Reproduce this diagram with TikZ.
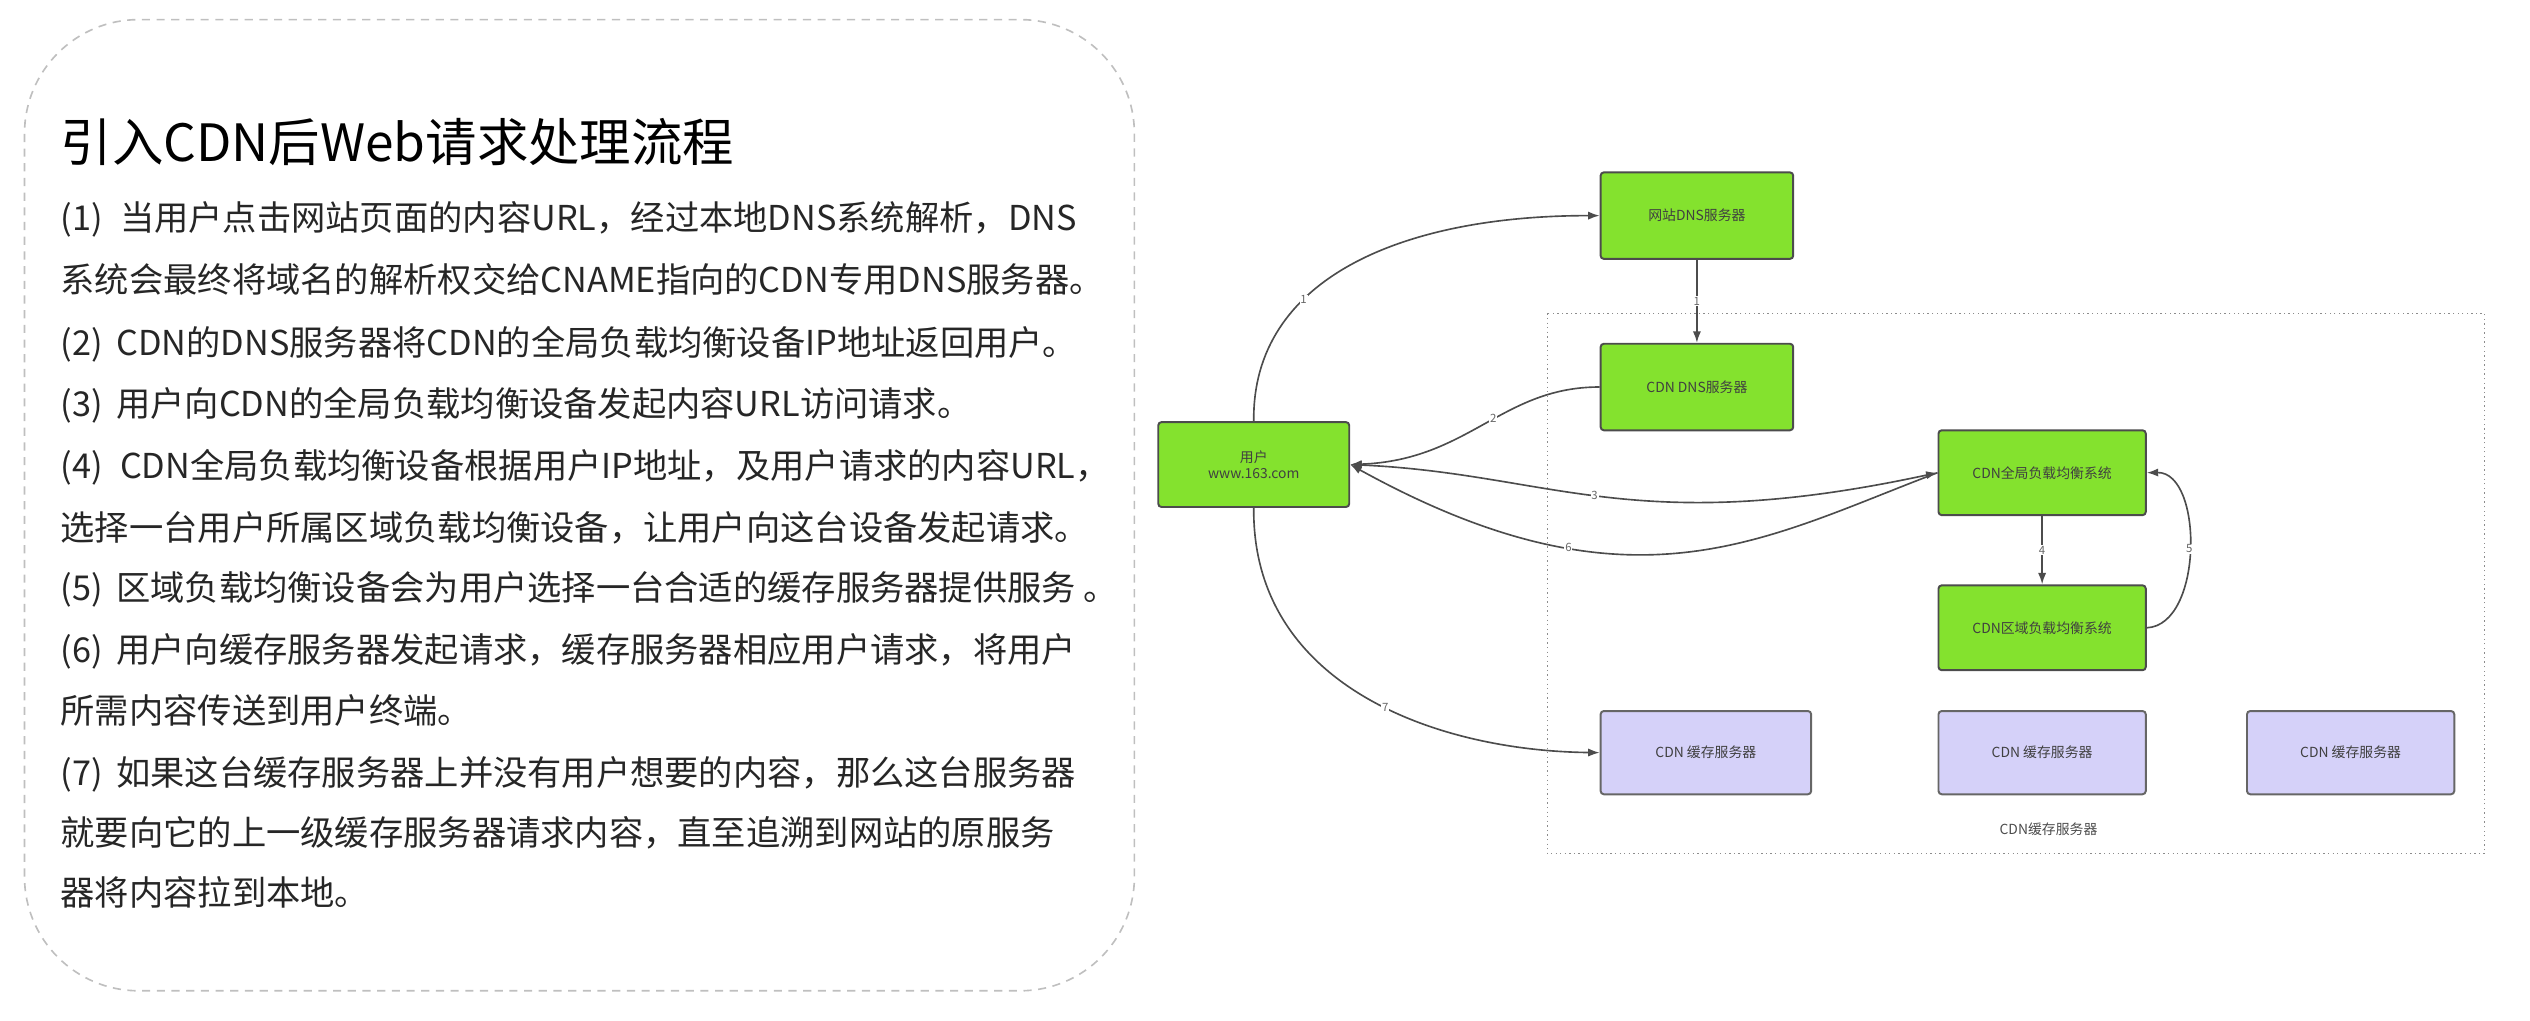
\documentclass[tikz,border=0pt]{standalone}
\usepackage{fontspec}
\setmainfont{Noto Sans CJK SC}
\usetikzlibrary{arrows.meta}
\definecolor{gbox}{HTML}{84E22E}
\definecolor{pbox}{HTML}{D5D1F9}
\begin{document}
\begin{tikzpicture}[x=1pt,y=-1pt,
  box/.style={draw=black!70,line width=1.2pt,rounded corners=2pt,fill=gbox,font=\fontsize{8.5}{10}\selectfont,text=black!75,align=center,anchor=north west},
  cbox/.style={box,fill=pbox,draw=black!60},
  edge/.style={draw=black!70,line width=1pt,-{Latex[length=7pt,width=5pt]}},
  lab/.style={font=\fontsize{7}{7}\selectfont,text=black!60,fill=white,inner sep=0.5pt},
  body/.style={anchor=base west,font=\fontsize{21}{24}\selectfont,text=black!85,inner sep=0}]
\useasboundingbox (0,0) rectangle (1550,625);
\draw[black!25,line width=1pt,dash pattern=on 5pt off 4pt,rounded corners=70pt] (15,12) rectangle (695,607);
\node[anchor=base west,font=\fontsize{31.5}{34}\selectfont,inner sep=0] (title) at (37,99) {引入CDN后Web请求处理流程};
\node[body] (t1) at (37,141) {(1)\enspace 当用户点击网站页面的内容URL，经过本地DNS系统解析，DNS};
\node[body] (t2) at (37,179) {系统会最终将域名的解析权交给CNAME指向的CDN专用DNS服务器。};
\node[body] (t3) at (37,218) {(2)\, CDN的DNS服务器将CDN的全局负载均衡设备IP地址返回用户。};
\node[body] (t4) at (37,255) {(3)\, 用户向CDN的全局负载均衡设备发起内容URL访问请求。};
\node[body] (t5) at (37,293) {(4)\enspace CDN全局负载均衡设备根据用户IP地址，及用户请求的内容URL，};
\node[body] (t6) at (37,331) {选择一台用户所属区域负载均衡设备，让用户向这台设备发起请求。};
\node[body] (t7) at (37,368) {(5)\, 区域负载均衡设备会为用户选择一台合适的缓存服务器提供服务 。};
\node[body] (t8) at (37,406) {(6)\, 用户向缓存服务器发起请求，缓存服务器相应用户请求，将用户};
\node[body] (t9) at (37,443) {所需内容传送到用户终端。};
\node[body] (t10) at (37,481) {(7)\, 如果这台缓存服务器上并没有用户想要的内容，那么这台服务器};
\node[body] (t11) at (37,518) {就要向它的上一级缓存服务器请求内容，直至追溯到网站的原服务};
\node[body] (t12) at (37,555) {器将内容拉到本地。};

\draw[black!45,line width=0.8pt,dotted] (948,192) rectangle (1522,523);
\node[font=\fontsize{8.5}{9}\selectfont,text=black!70] (cl) at (1255,508) {CDN缓存服务器};

\node[box,minimum width=117pt,minimum height=52pt] (user) at (709,258) {用户\\www.163.com};
\node[box,minimum width=118pt,minimum height=53pt] (wdns) at (980,105) {网站DNS服务器};
\node[box,minimum width=118pt,minimum height=53pt] (cdns) at (980,210) {CDN DNS服务器};
\node[box,minimum width=127pt,minimum height=52pt] (glb) at (1187,263) {CDN全局负载均衡系统};
\node[box,minimum width=127pt,minimum height=52pt] (rlb) at (1187,358) {CDN区域负载均衡系统};
\node[cbox,minimum width=129pt,minimum height=51pt] (c1) at (980,435) {CDN 缓存服务器};
\node[cbox,minimum width=127pt,minimum height=51pt] (c2) at (1187,435) {CDN 缓存服务器};
\node[cbox,minimum width=127pt,minimum height=51pt] (c3) at (1376,435) {CDN 缓存服务器};

\draw[edge] (user.north) .. controls (767,170) and (860,132) .. node[lab,pos=0.35]{1} (wdns.west);
\draw[edge] (wdns.south) -- node[lab,pos=0.5]{1} (cdns.north);
\draw[edge] (cdns.west) .. controls (920,237) and (900,282) .. node[lab,pos=0.45]{2} (user.east);
\draw[edge,{Latex[length=7pt,width=5pt]}-{Latex[length=7pt,width=5pt]}] (user.east) .. controls (950,290) and (1000,330) .. node[lab,pos=0.48]{3} (glb.west);
\draw[edge] (glb.west) .. controls (1080,330) and (1000,380) .. node[lab,pos=0.7]{6} (user.east);
\draw[edge] (glb.south) -- node[lab]{4} (rlb.north);
\draw[edge] (rlb.east) .. controls (1350,383) and (1350,289) .. node[lab]{5} (glb.east);
\draw[edge] (user.south) .. controls (767,420) and (880,460) .. node[lab,pos=0.55]{7} (c1.west);
\end{tikzpicture}
\end{document}
